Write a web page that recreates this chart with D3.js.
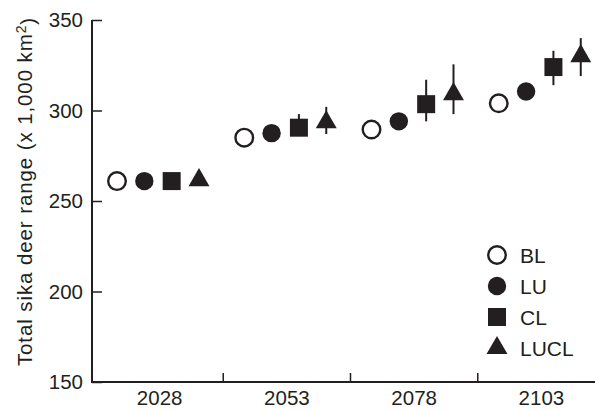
<!DOCTYPE html>
<html>
<head>
<meta charset="utf-8">
<script src="https://cdn.jsdelivr.net/npm/d3@7"></script>
<style>
  html, body { margin: 0; padding: 0; background: #fff; }
  text { font-family: "Liberation Sans", Arial, sans-serif; fill: #231f20; }
</style>
</head>
<body>
<div id="chart"></div>
<script>
const years = ['2028', '2053', '2078', '2103'];
const seriesNames = ['BL', 'LU', 'CL', 'LUCL'];
const yTicks = [150, 200, 250, 300, 350];

// mean range per scenario (x 1,000 km2)
const BL = [261, 285, 289.5, 304];
const LU = [261, 287.5, 294, 310.5];
const CL = [261, 290.5, 303.5, 324];
const LUCL = [261.5, 293.5, 309, 330];

// error bar limits [low, high], null where none drawn
const CLerr = [null, [286, 298], [294, 317], [314, 333]];
const LUCLerr = [null, [287, 302], [298, 325.5], [319, 340]];

const values = { BL, LU, CL, LUCL };
const errors = { BL: [], LU: [], CL: CLerr, LUCL: LUCLerr };

const ink = '#231f20';
const W = 595, H = 410;
const margin = { top: 20, right: 0, bottom: 28, left: 92 };
const fontSize = '20.5px';

const svg = d3.select('#chart')
  .append('svg')
  .attr('width', W)
  .attr('height', H);

const x = d3.scaleBand()
  .domain(years)
  .range([96, 605])
  .padding(0);

const inner = d3.scalePoint()
  .domain(seriesNames)
  .range([21, 103]);

const y = d3.scaleLinear()
  .domain([150, 350])
  .range([H - margin.bottom, margin.top]);

const xPos = (yr, s) => x(yr) + inner(s);

// Y axis
svg.append('g')
  .attr('transform', `translate(${margin.left},0)`)
  .call(d3.axisRight(y).tickValues(yTicks).tickSize(10).tickFormat(d3.format('d')))
  .call(g => g.select('.domain').remove())
  .call(g => g.selectAll('.tick line').attr('stroke', ink).attr('stroke-width', 1.5))
  .call(g => g.selectAll('.tick text')
    .attr('x', -9)
    .attr('text-anchor', 'end')
    .style('font-size', fontSize));

// X axis labels at band centres
svg.append('g')
  .attr('transform', `translate(0,${y(150)})`)
  .call(d3.axisBottom(x).tickSize(0).tickPadding(8))
  .call(g => g.select('.domain').remove())
  .call(g => g.selectAll('.tick text').style('font-size', fontSize));

// X ticks between groups, pointing inward
svg.append('g')
  .selectAll('line')
  .data(years.slice(1))
  .join('line')
  .attr('x1', d => x(d))
  .attr('x2', d => x(d))
  .attr('y1', y(150))
  .attr('y2', y(150) - 9)
  .attr('stroke', ink)
  .attr('stroke-width', 1.5);

// axis lines
svg.append('path')
  .attr('d', `M${margin.left},${y(350)}V${y(150)}H${W}`)
  .attr('fill', 'none')
  .attr('stroke', ink)
  .attr('stroke-width', 2);

// Y label
svg.append('text')
  .attr('transform', `translate(32,${(y(150) + y(350)) / 2 - 9.5}) rotate(-90)`)
  .attr('text-anchor', 'middle')
  .style('font-size', fontSize)
  .style('letter-spacing', '0.9px')
  .call(t => {
    t.append('tspan').text('Total sika deer range (x 1,000 km');
    t.append('tspan').attr('dy', '-0.45em').style('font-size', '14px').text('2');
    t.append('tspan').attr('dy', '0.45em').text(')');
  });

// marker drawer
function drawMarker(sel, s) {
  if (s === 'BL') {
    sel.append('circle').attr('r', 8.8).attr('fill', '#fff').attr('stroke', ink).attr('stroke-width', 2.4);
  } else if (s === 'LU') {
    sel.append('circle').attr('r', 9.2).attr('fill', ink);
  } else if (s === 'CL') {
    sel.append('path').attr('d', d3.symbol(d3.symbolSquare, 324)()).attr('fill', ink);
  } else {
    sel.append('path').attr('d', d3.symbol(d3.symbolTriangle, 190)()).attr('fill', ink);
  }
}

// Error bars
seriesNames.forEach(s => {
  svg.append('g')
    .selectAll('line')
    .data(years.map((yr, i) => ({ yr, e: errors[s][i] })).filter(d => d.e))
    .join('line')
    .attr('x1', d => xPos(d.yr, s))
    .attr('x2', d => xPos(d.yr, s))
    .attr('y1', d => y(d.e[0]))
    .attr('y2', d => y(d.e[1]))
    .attr('stroke', ink)
    .attr('stroke-width', 2);
});

// Points
seriesNames.forEach(s => {
  svg.append('g')
    .selectAll('g')
    .data(years.map((yr, i) => ({ yr, v: values[s][i] })))
    .join('g')
    .attr('transform', d => `translate(${xPos(d.yr, s)},${y(d.v)})`)
    .each(function () { drawMarker(d3.select(this), s); });
});

// Legend
const legend = svg.append('g')
  .selectAll('g')
  .data(seriesNames)
  .join('g')
  .attr('transform', (d, i) => `translate(497,${255 + i * 31})`);

legend.each(function (d) { drawMarker(d3.select(this), d); });
legend.append('text')
  .attr('x', 23)
  .attr('dy', '0.36em')
  .style('font-size', '21px')
  .text(d => d);
</script>
</body>
</html>
